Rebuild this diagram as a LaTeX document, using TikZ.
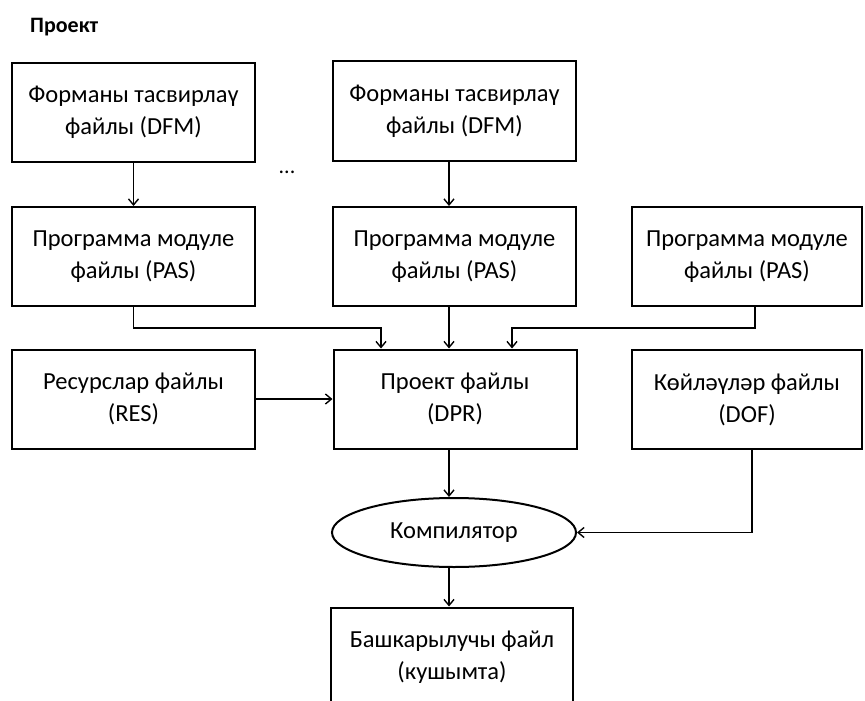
\documentclass[tikz,border=0pt]{standalone}
\usepackage{fontspec}
\setmainfont{Carlito}
\usetikzlibrary{arrows.meta,shapes.geometric,calc}
\begin{document}
\begin{tikzpicture}[x=1pt,y=-1pt,
  box/.style={draw=black,line width=2pt,fill=white,minimum width=243pt,minimum height=99pt,
    align=center,inner sep=0pt,font=\fontsize{24.5}{32}\selectfont},
  conn/.style={draw=black,line width=1.4pt,-{Straight Barb[length=6pt,width=10pt,line width=1.4pt]}},
  line/.style={draw=black,line width=1.4pt}]
\clip (0,0) rectangle (865,701);
\fill[white] (0,0) rectangle (865,701);
\node[font=\bfseries\fontsize{22}{26}\selectfont,anchor=west,inner sep=0pt] (title) at (30,27) {Проект};
\node[box] (dfm1) at (133.5,112.5) {Форманы тасвирлаү\\файлы (DFM)};
\node[box] (dfm2) at (454.5,111) {Форманы тасвирлаү\\файлы (DFM)};
\node[font=\fontsize{22}{24}\selectfont] (dots) at (287,172) {...};
\node[box] (pas1) at (133.5,256.5) {Программа модуле\\файлы (PAS)};
\node[box] (pas2) at (454.5,256.5) {Программа модуле\\файлы (PAS)};
\node[box,minimum width=230pt] (pas3) at (747,256.5) {Программа модуле\\файлы (PAS)};
\node[box] (res) at (133.5,399) {Ресурслар файлы\\(RES)};
\node[box] (dpr) at (455,399) {Проект файлы\\(DPR)};
\node[box,minimum width=230pt] (dof) at (747,399.5) {Көйләүләр файлы\\(DOF)};
\node[draw=black,line width=2pt,fill=white,ellipse,minimum width=244pt,minimum height=69pt,inner sep=0pt,
  font=\fontsize{24.5}{28}\selectfont] (comp) at (454,532.5) {Компилятор};
\node[box,minimum width=242pt] (exe) at (452,657) {Башкарылучы файл\\(кушымта)};
\coordinate (cx) at (449,0);
\coordinate (hy) at (0,328);
\coordinate (lx) at (381,0);
\coordinate (rx) at (512,0);
\coordinate (px) at (755,0);
\coordinate (dx) at (752,0);
\draw[conn] (dfm1.south) -- (pas1.north);
\draw[conn] (dfm2.south -| cx) -- (pas2.north -| cx);
\draw[conn] (pas2.south -| cx) -- (dpr.north -| cx);
\draw[conn] (pas1.south) |- (lx |- hy) -- (dpr.north -| lx);
\draw[conn] (pas3.south -| px) |- (rx |- hy) -- (dpr.north -| rx);
\draw[conn] (res.east) -- (dpr.west);
\draw[conn] (dpr.south -| cx) -- (comp.north -| cx);
\draw[conn] (dof.south -| dx) |- (comp.east);
\draw[conn] (comp.south -| cx) -- (exe.north -| cx);
\end{tikzpicture}
\end{document}
